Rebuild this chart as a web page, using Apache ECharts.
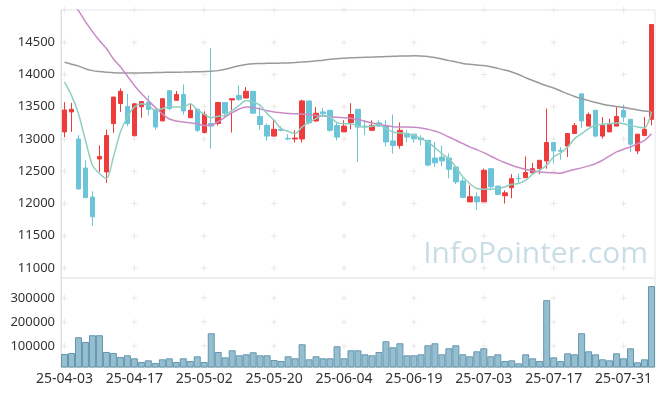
<!DOCTYPE html>
<html><head><meta charset="utf-8">
<script src="https://cdn.jsdelivr.net/npm/echarts@6/dist/echarts.min.js"></script>
<style>html,body{margin:0;padding:0;background:#fff}#c{width:665px;height:396px}</style>
</head><body><div id="c"></div>
<script>
const categories = [
'25-04-03','25-04-04','25-04-07','25-04-08','25-04-09','25-04-10','25-04-11','25-04-14','25-04-15','25-04-16',
'25-04-17','25-04-18','25-04-21','25-04-22','25-04-23','25-04-24','25-04-25','25-04-28','25-04-29','25-04-30',
'25-05-02','25-05-07','25-05-08','25-05-09','25-05-12','25-05-13','25-05-14','25-05-15','25-05-16','25-05-19',
'25-05-20','25-05-21','25-05-22','25-05-23','25-05-26','25-05-27','25-05-28','25-05-29','25-05-30','25-06-02',
'25-06-04','25-06-05','25-06-09','25-06-10','25-06-11','25-06-12','25-06-13','25-06-16','25-06-17','25-06-18',
'25-06-19','25-06-20','25-06-23','25-06-24','25-06-25','25-06-26','25-06-27','25-06-30','25-07-01','25-07-02',
'25-07-03','25-07-04','25-07-07','25-07-08','25-07-09','25-07-10','25-07-11','25-07-14','25-07-15','25-07-16',
'25-07-17','25-07-18','25-07-21','25-07-22','25-07-23','25-07-24','25-07-25','25-07-28','25-07-29','25-07-30',
'25-07-31','25-08-01','25-08-04','25-08-05','25-08-06'];

const openV = [13110,13420,13000,12550,12100,12690,12490,13240,13550,13505,
13050,13500,13570,13455,13280,13750,13600,13690,13330,13460,
13100,13240,13240,13565,13605,13675,13635,13740,13350,13210,
13045,13150,13010,13000,13000,13590,13280,13420,13445,13210,
13110,13255,13460,13200,13135,13250,13210,12970,12900,13085,
13075,13015,12980,12705,12720,12705,12565,12350,12025,12105,
12025,12540,12270,12120,12245,12390,12400,12475,12540,12660,
12945,12825,12890,13085,13700,13200,13445,13045,13110,13200,
13445,13305,12815,13055,13305];
const closeV = [13450,13460,12225,12090,11795,12730,13055,13650,13740,13240,
13545,13580,13460,13185,13625,13470,13690,13435,13445,13135,
13380,13200,13565,13400,13625,13615,13740,13400,13225,13045,
13150,13135,13000,13015,13590,13250,13400,13390,13135,13030,
13200,13380,13185,13190,13210,13200,12955,12900,13135,13030,
13005,12990,12595,12630,12660,12530,12335,12095,12105,12025,
12515,12260,12140,12165,12385,12385,12480,12540,12670,12945,
12815,12810,13085,13210,13280,13380,13045,13210,13225,13350,
13340,12920,13075,13150,14775];
const lowV = [13030,13110,12220,12085,11655,12490,12320,13095,13420,13200,
13045,13330,13365,13145,13280,13445,13590,13380,13330,13110,
13085,12850,13210,13340,13100,13590,13635,13400,13145,12975,
13045,13120,12980,12945,12945,13225,13265,13350,13110,12980,
13110,13150,12645,13060,13135,13185,12885,12775,12850,12945,
12945,12902,12575,12565,12580,12390,12300,12095,12025,11900,
12025,12205,12130,12000,12080,12310,12400,12465,12455,12540,
12620,12680,12720,13085,13175,13200,13030,13005,13110,13200,
13265,12800,12765,13040,13210];
const highV = [13570,13560,13060,12670,12190,12900,13145,13650,13785,13700,
13560,13580,13675,13455,13625,13755,13745,13845,13545,13470,
13430,14410,13575,13570,13625,13830,13805,13740,13495,13240,
13300,13200,13075,13135,13610,13590,13495,13480,13445,13265,
13290,13555,13460,13290,13290,13290,13290,13380,13255,13135,
13075,13057,12980,12955,12900,12775,12565,12400,12285,12170,
12540,12540,12270,12205,12455,12465,12730,12630,12670,13470,
12945,12875,13085,13250,13700,13410,13445,13340,13315,13495,
13530,13305,13075,13340,14775];

const ma5 = [13880,13676,13392,12980,12593,12464,12387,12722,13109,13341,
13495,13547,13521,13444,13470,13495,13495,13495,13547,13454,
13382,13330,13351,13366,13444,13521,13598,13573,13521,13392,
13289,13160,13119,13083,13186,13263,13315,13366,13341,13253,
13238,13238,13196,13186,13196,13222,13160,13109,13093,13083,
13057,13006,12954,12866,12774,12696,12567,12413,12310,12232,
12222,12222,12232,12255,12299,12310,12361,12454,12516,12593,
12722,12784,12877,13006,13083,13160,13212,13227,13238,13248,
13238,13212,13186,13176,13418];
const ma20 = [15269,15130,14990,14820,14665,14526,14403,14240,14120,13975,
13830,13705,13595,13490,13390,13310,13280,13262,13250,13235,
13210,13215,13270,13340,13410,13465,13495,13490,13464,13439,
13418,13408,13397,13392,13387,13377,13366,13356,13346,13336,
13330,13320,13305,13274,13248,13227,13207,13191,13186,13186,
13181,13170,13150,13124,13083,13031,12980,12928,12877,12835,
12789,12732,12681,12635,12593,12557,12526,12506,12490,12480,
12475,12470,12500,12526,12552,12583,12619,12671,12738,12800,
12841,12877,12928,12980,13083];
const ma60 = [14190,14160,14130,14090,14060,14045,14035,14027,14025,14025,
14025,14025,14027,14030,14032,14034,14036,14037,14040,14043,
14046,14050,14060,14080,14110,14135,14155,14166,14170,14173,
14175,14177,14180,14185,14192,14200,14212,14222,14235,14245,
14252,14258,14263,14267,14270,14274,14278,14282,14285,14288,
14290,14288,14280,14262,14240,14215,14195,14172,14158,14148,
14138,14120,14095,14070,14040,14000,13950,13908,13865,13825,
13790,13745,13700,13660,13625,13595,13565,13540,13520,13505,
13490,13470,13450,13435,13420];

const volume = [66460,70650,136340,116780,144730,144730,74850,70650,53880,60870,
48300,32930,39920,28740,44100,48300,32930,48300,37120,56680,
32930,153110,74850,52490,81840,60870,65060,73460,60870,60870,
41300,37120,56680,48300,107000,44100,56680,48300,48300,98600,
48300,81840,81840,65060,60870,74850,119570,94410,111190,60870,
60870,65060,102800,111190,65060,90230,102800,65060,56680,77650,
90230,56680,65060,37120,39920,27330,65060,48300,37120,291480,
52490,37120,69260,65060,153110,77650,65060,44100,39920,69260,
48300,90230,31530,44100,350180];

const priceTicks = [11000,11500,12000,12500,13000,13500,14000,14500];
const volumeTicks = [100000,200000,300000];
const labelEvery = 10;

const UP = '#ee3b3b', DOWN = '#6cc4d8';
const candleData = categories.map((c,i)=>[openV[i],closeV[i],lowV[i],highV[i]]);
const cols = categories.map((c,i)=>i).filter(i=>i%labelEvery===0);
const crossMain = [], crossVol = [];
cols.forEach(i=>{ priceTicks.concat([15000]).forEach(v=>crossMain.push([i,v])); volumeTicks.forEach(v=>crossVol.push([i,v])); });
const plus = 'path://M2.5,0h1v2.5h2.5v1h-2.5v2.5h-1v-2.5h-2.5v-1h2.5z';
const FONT = 'Noto Sans';
const plain = v => String(v);

const chart = echarts.init(document.getElementById('c'), null, {renderer:'canvas'});
chart.setOption({
  animation:false,
  backgroundColor:'#fff',
  graphic:[{type:'text', right:17, top:239, z:0, silent:true,
    style:{text:'InfoPointer.com', fill:'#c9dde6', font:'30px "Open Sans"'}}],
  grid:[
    {left:61,right:10,top:10,height:268,show:true,borderColor:'#e6e6e6',borderWidth:1},
    {left:61,right:10,top:278,height:89,show:true,borderColor:'#e6e6e6',borderWidth:1}
  ],
  xAxis:[
    {type:'category',gridIndex:0,data:categories,axisLine:{show:false},axisTick:{show:false},axisLabel:{show:false},splitLine:{show:false}},
    {type:'category',gridIndex:1,data:categories,axisLine:{lineStyle:{color:'#dddddd'}},axisTick:{show:false},
      axisLabel:{interval:labelEvery-1,fontSize:14,color:'#333',fontFamily:FONT,margin:5},splitLine:{show:false}}
  ],
  yAxis:[
    {type:'value',gridIndex:0,min:10845,max:15000,axisLine:{show:true,lineStyle:{color:'#dddddd'}},axisTick:{show:false},splitLine:{show:false},
      axisLabel:{customValues:priceTicks,formatter:plain,fontSize:13,color:'#333',fontFamily:FONT,margin:6}},
    {type:'value',gridIndex:1,min:12000,max:384000,axisLine:{show:true,lineStyle:{color:'#dddddd'}},axisTick:{show:false},splitLine:{show:false},
      axisLabel:{customValues:volumeTicks,formatter:plain,fontSize:13,color:'#333',fontFamily:FONT,margin:6}}
  ],
  series:[
    {type:'scatter',xAxisIndex:0,yAxisIndex:0,data:crossMain,symbol:plus,symbolSize:6,silent:true,z:1,itemStyle:{color:'#e2e2e2'}},
    {type:'scatter',xAxisIndex:1,yAxisIndex:1,data:crossVol,symbol:plus,symbolSize:6,silent:true,z:1,itemStyle:{color:'#e2e2e2'}},
    {type:'candlestick',xAxisIndex:0,yAxisIndex:0,data:candleData,barWidth:5,
      itemStyle:{color:UP,color0:DOWN,borderColor:UP,borderColor0:DOWN,borderWidth:1}},
    {type:'line',xAxisIndex:0,yAxisIndex:0,data:ma60,symbol:'none',smooth:0.3,lineStyle:{color:'#9a9a9a',width:1.5}},
    {type:'line',xAxisIndex:0,yAxisIndex:0,data:ma20,symbol:'none',smooth:0.3,lineStyle:{color:'#c98bc6',width:1.5}},
    {type:'line',xAxisIndex:0,yAxisIndex:0,data:ma5,symbol:'none',smooth:0.3,lineStyle:{color:'#8fcfc1',width:1.5}},
    {type:'bar',xAxisIndex:1,yAxisIndex:1,data:volume,barWidth:'100%',
      itemStyle:{color:'#95bfd1',borderColor:'#6496ad',borderWidth:1}}
  ]
});
</script></body></html>
